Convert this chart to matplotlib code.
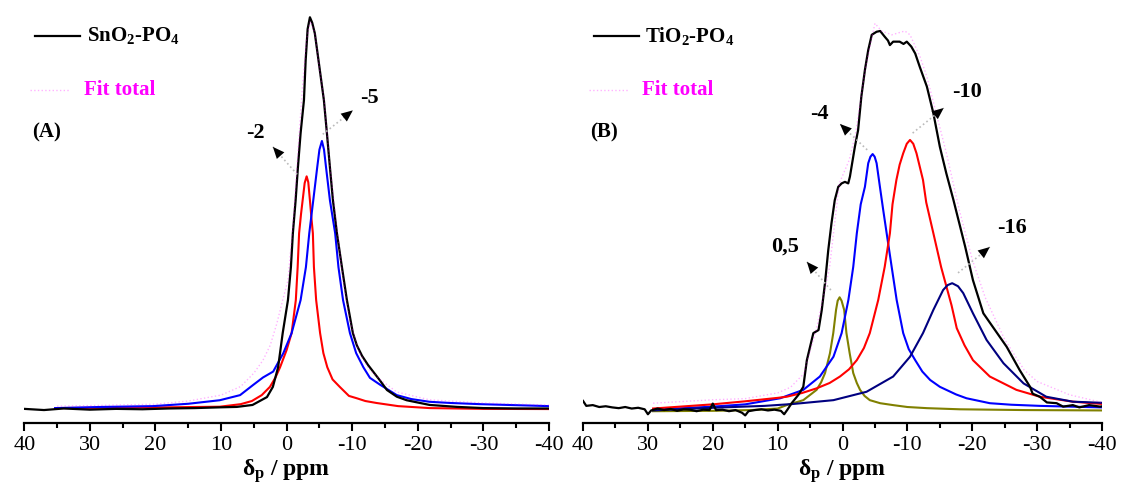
import matplotlib
matplotlib.use("Agg")
import matplotlib.pyplot as plt
import numpy as np
from matplotlib.ticker import MultipleLocator

plt.rcParams["font.family"] = ["Liberation Serif", "DejaVu Serif"]
plt.rcParams["mathtext.fontset"] = "custom"
plt.rcParams["mathtext.rm"] = "Liberation Serif"
plt.rcParams["mathtext.bf"] = "Liberation Serif:bold"
plt.rcParams["mathtext.it"] = "Liberation Serif:italic"
plt.rcParams["axes.unicode_minus"] = False

# ---- panel A : SnO2-PO4 (chemical shift in ppm, intensity in a.u.) ----
A_EXP_PPM = [40, 37, 34, 30, 26, 22, 18, 14, 10, 7.6, 5.2, 3.0, 2.1, 1.3, 0.6, -0.2, -0.65,
             -0.95, -1.37, -1.72, -2.13, -2.64, -2.9, -3.2, -3.55, -3.9, -4.3, -5.0, -5.68,
             -6.14, -6.6, -7.06, -7.67, -8.43, -9.19, -10.1, -10.7, -11.5, -12.4, -14.2, -15.3,
             -16.8, -18.3, -21.8, -26, -30, -35, -40]
A_EXP_INT = [0.3, 0.0, 0.4, 0.1, 0.3, 0.2, 0.4, 0.5, 0.7, 0.8, 1.3, 3.3, 5.9, 10.9, 19.6, 28.0, 36.4,
             45.0, 53.4, 61.8, 70.5, 78.9, 89.0, 97.0, 100.0, 98.6, 95.9, 87.3, 78.9,
             70.5, 61.8, 53.4, 45.0, 36.4, 28.0, 19.6, 16.5, 13.8, 11.5, 7.6, 5.1,
             3.4, 2.5, 1.3, 0.8, 0.5, 0.4, 0.4]

A_FIT_PPM = [35, 28, 20, 15, 10, 7, 5, 3.6, 2.5, 1.5, 0.6, -0.2, -1.0, -1.7, -2.4, -3.0, -3.6,
             -4.3, -5.0, -5.7, -6.6, -7.7, -8.6, -9.6, -11, -12.5, -14.2, -16.8, -21.8, -30, -40]
A_FIT_INT = [1.0, 1.2, 1.5, 2.3, 3.8, 6.0, 9.4, 12.7, 16.5, 22.0, 28.0, 33.0, 48.0, 65.0, 82.0,
             94.0, 99.0, 96.0, 87.0, 79.0, 62.0, 46.0, 33.0, 23.0, 15.0, 10.5, 7.8, 4.6, 2.6, 1.8, 1.25]

A_P2_PPM = [35.3, 25, 18, 10.2, 7, 5.3, 3.8, 2.55, 1.7, 1.0, 0.0, -0.76, -1.4, -1.68, -1.9, -2.2,
            -2.44, -2.75, -3.05, -3.3, -3.55, -3.8, -4.0, -4.16, -4.5, -5.1, -5.6, -6.2, -7.0,
            -8.1, -9.5, -10.7, -12, -13.7, -17, -21.8, -30, -40]
A_P2_INT = [0.5, 0.6, 0.7, 0.85, 1.5, 2.3, 3.8, 5.9, 8.3, 10.9, 15.3, 19.6, 28.0, 36.4, 45.0, 50.0,
            53.4, 57.8, 59.5, 58.0, 53.4, 48.5, 45.0, 36.4, 28.0, 19.6, 14.5, 10.9, 7.8,
            5.9, 3.6, 3.0, 2.3, 1.8, 1.0, 0.5, 0.3, 0.25]

A_P5_PPM = [35.3, 28, 20.4, 15, 10.2, 7.1, 5.1, 3.6, 2.05, 0.5, -0.76, -2.13, -2.94, -3.45,
            -4.06, -4.67, -5.0, -5.38, -5.7, -6.0, -6.6, -7.4, -7.9, -8.6, -9.65, -10.6, -11.7,
            -12.7, -14.2, -16.8, -19, -21.8, -25, -29.5, -40]
A_P5_INT = [0.5, 0.8, 1.0, 1.6, 2.5, 3.8, 6.4, 8.3, 9.8, 14.5, 19.6, 28.0, 36.4, 45.0,
            53.4, 61.9, 66.3, 68.5, 66.3, 61.9, 53.4, 45.0, 36.4, 28.0, 19.6, 14.5, 10.9,
            8.2, 6.5, 3.8, 2.8, 2.1, 1.8, 1.5, 1.0]

# ---- panel B : TiO2-PO4 ----
B_EXP_PPM = [40, 39.5, 38.5, 37.5, 36.5, 35.5, 34.5, 33.5, 32.5, 31.5, 30.5, 30.0, 29.5, 28.5,
             27.5, 26.5, 25.5, 24.5, 23.5, 22.5, 21.5, 20.5, 20.0, 19.5, 18.5, 17.5, 16.5, 15.5,
             15.0, 14.5, 13.5, 12.5, 11.5, 10.5, 9.5, 9.0, 8.5, 7.8, 6.8, 6.05, 5.5, 4.5, 3.7,
             3.2, 2.7, 2.2, 1.7, 1.2, 0.66, 0.14, -0.37, -0.88, -1.14, -1.9, -2.4, -2.9, -3.45,
             -3.96, -4.5, -5.25, -5.8, -6.5, -7.0, -7.3, -7.8, -8.8, -9.4, -9.9, -10.6, -11.2,
             -11.9, -13.0, -14.0, -15.0, -16.0, -17.1, -17.6, -18.9, -20.1, -21.7, -23.5, -25.3,
             -27.3, -28.9, -29.3, -30.4, -31.5, -33.0, -34.0, -35.5, -36.5, -38.0, -39.7, -40]
B_EXP_INT = [2.9, 1.6, 1.8, 1.3, 1.5, 1.2, 1.0, 1.3, 0.9, 1.1, 0.7, -0.6, 0.4, 0.9,
             0.5, 0.8, 0.3, 0.7, 0.6, 0.2, 0.6, 0.5, 2.2, 0.5, 0.6, 0.2, 0.5, -0.2,
             -0.9, 0.2, 0.5, 0.7, 0.4, 0.6, 0.3, -0.6, 0.6, 2.4, 4.5, 6.6, 13.6, 20.7, 21.5,
             26.8, 33.9, 42.5, 49.6, 55.6, 59.1, 60.0, 60.4, 60.0, 61.8, 69.6, 74.0, 82.8, 89.8,
             95.0, 99.0, 99.8, 100.0, 98.5, 97.5, 96.3, 97.2, 97.2, 96.6, 97.2, 95.9, 94.1,
             90.6, 85.4, 78.4, 69.6, 62.6, 55.6, 52.2, 43.4, 34.6, 25.9, 21.5, 17.1,
             11.0, 6.6, 4.8, 4.0, 2.5, 2.3, 1.4, 1.8, 1.2, 1.8, 1.4, 1.5]

B_FIT_PPM = [29.2, 20, 15, 10, 8, 6, 4, 2, 0.5, -1, -2, -3.5, -4.6, -5.0, -6, -7.6, -9.6,
             -10.4, -12, -13, -14.5, -16, -18, -20, -22, -25, -28, -30, -35, -40]
B_FIT_INT = [2.3, 3.2, 3.5, 5.0, 6.5, 10.0, 22.0, 38.0, 60.0, 66.0, 73.0, 90.0, 99.0, 102.0,
             100.0, 99.0, 100.0, 99.0, 93.0, 88.0, 78.0, 68.0, 53.0, 40.0, 30.0, 19.0, 11.0,
             8.0, 4.5, 2.5]

B_P05_PPM = [29.2, 20, 14, 10, 8.6, 6.05, 4.0, 3.3, 2.7, 1.94, 1.43, 1.0, 0.75, 0.45, 0.15,
             -0.25, -0.6, -1.1, -1.65, -2.2, -2.7, -3.4, -4.2, -5.8, -7.8, -10, -13, -18.1,
             -28, -40]
B_P05_INT = [0.2, 0.3, 0.5, 0.9, 1.8, 3.1, 5.8, 7.8, 10.2, 15.4, 20.7, 26.8, 29.2, 30.1, 29.2,
             26.8, 20.7, 15.4, 10.2, 7.6, 5.8, 4.2, 3.1, 2.3, 1.8, 1.3, 1.0, 0.7,
             0.5, 0.4]

B_P4_PPM = [29.2, 20, 15, 9.6, 6.05, 3.5, 1.4, 0.14, -0.9, -1.65, -2.2, -2.8, -3.45, -3.96,
            -4.3, -4.64, -4.95, -5.25, -5.76, -6.27, -6.8, -7.57, -8.34, -9.35, -10.2, -11.2,
            -12.3, -13.5, -15.0, -16.0, -17.5, -19.1, -22.7, -26, -30.4, -40]
B_P4_INT = [0.6, 1.4, 2.0, 3.6, 5.8, 9.3, 14.5, 20.7, 29.4, 38.1, 46.9, 54.5, 59.1, 65.3,
            67.0, 67.7, 67.0, 65.3, 59.1, 53.0, 46.9, 38.1, 29.4, 20.7, 16.5, 13.6,
            10.6, 8.4, 6.6, 5.8, 4.6, 3.6, 2.3, 1.9, 1.6, 1.2]

B_P10_PPM = [29.2, 20, 15, 10, 8.6, 6.2, 4.0, 2.0, 0.4, -1.0, -2.2, -3.3, -4.2, -5.5, -6.5,
             -7.3, -7.7, -8.3, -8.8, -9.35, -9.9, -10.4, -10.9, -11.4, -12.4, -12.9, -14.0,
             -15.2, -16.8, -17.6, -18.8, -20.1, -22.7, -26.8, -30.4, -35.5, -40]
B_P10_INT = [0.9, 2.0, 2.8, 3.7, 4.0, 5.0, 6.2, 7.6, 9.3, 11.2, 13.6, 16.8, 20.7, 29.4, 38.1,
             46.9, 54.5, 60.9, 64.9, 67.9, 70.4, 71.4, 70.4, 67.9, 60.9, 55.0, 46.9,
             38.0, 28.0, 22.0, 17.5, 13.6, 9.3, 5.8, 4.0, 2.7, 2.1]

B_P16_PPM = [29.2, 20, 12, 7.6, 1.4, -3.7, -7.8, -10.4, -12.4, -14.0, -15.5, -16.2, -16.9, -17.8,
             -18.6, -20.1, -22.2, -24.8, -27.9, -31.4, -35.5, -40]
B_P16_INT = [0.4, 1.1, 1.6, 2.1, 3.1, 5.3, 9.3, 14.5, 20.7, 26.8, 32.0, 33.3, 33.8, 33.0,
             31.2, 25.9, 18.9, 12.8, 7.5, 4.0, 2.7, 2.4]

# peak labels: (text, text position, arrow tip, arrow tail)
A_LABELS = [("-2", (4.7, 70.5), (2.1, 67.0), (-1.6, 60.0)),
            ("-5", (-12.7, 79.4), (-10.1, 76.3), (-5.5, 70.2))]
B_LABELS = [("-4", (3.6, 78.2), (0.4, 75.6), (-3.8, 68.8)),
            ("-10", (-19.2, 84.0), (-15.6, 79.8), (-10.8, 73.2)),
            ("0,5", (8.9, 43.3), (5.5, 39.4), (1.8, 32.0)),
            ("-16", (-26.1, 48.3), (-22.7, 43.3), (-17.8, 36.5))]

FIT_COLOR = "#FF00FF"


def style_axis(ax, ylim):
    ax.set_xlim(40, -40)
    ax.set_ylim(*ylim)
    for side in ("left", "right", "top"):
        ax.spines[side].set_visible(False)
    ax.spines["bottom"].set_linewidth(1.6)
    ax.set_yticks([])
    ax.xaxis.set_major_locator(MultipleLocator(10))
    ax.xaxis.set_minor_locator(MultipleLocator(5))
    ax.tick_params(axis="x", which="major", direction="out", length=6, width=1.5,
                   labelsize=16, pad=3)
    ax.tick_params(axis="x", which="minor", direction="out", length=3.5, width=1.5)
    ax.set_xlabel("δ$_\\mathbf{p}$ / ppm", fontsize=17, fontweight="bold", labelpad=2)
    ax.patch.set_alpha(0)


def add_legend(ax, name, tag):
    ax.plot([0.021, 0.107], [0.927, 0.927], color="k", lw=1.6, transform=ax.transAxes)
    ax.text(0.120, 0.927, name, transform=ax.transAxes, fontsize=15, fontweight="bold",
            va="center", ha="left")
    ax.plot([0.011, 0.088], [0.797, 0.797], color=FIT_COLOR, lw=1.0, ls=":", alpha=0.3,
            transform=ax.transAxes)
    ax.text(0.113, 0.797, "Fit total", transform=ax.transAxes, fontsize=15,
            fontweight="bold", color=FIT_COLOR, va="center", ha="left")
    ax.text(0.014, 0.695, tag, transform=ax.transAxes, fontsize=15, fontweight="bold",
            va="center", ha="left")


def add_peak_labels(ax, labels):
    for text, tpos, tip, tail in labels:
        ax.plot([tail[0], tip[0]], [tail[1], tip[1]], color="#BBBBBB", lw=1.2, ls=":")
        ax.annotate("", xy=tip, xytext=(tip[0] + 0.2 * (tail[0] - tip[0]),
                                        tip[1] + 0.2 * (tail[1] - tip[1])),
                    arrowprops=dict(arrowstyle="-|>,head_length=0.7,head_width=0.3",
                                    color="k", lw=0, shrinkA=0, shrinkB=0,
                                    mutation_scale=12))
        ax.text(tpos[0], tpos[1], text, fontsize=16, fontweight="bold",
                ha="center", va="center")


fig = plt.figure(figsize=(11.21, 4.94), dpi=100)
ax_a = fig.add_axes([0.0217, 0.1437, 0.468, 0.846])
ax_b = fig.add_axes([0.5201, 0.1437, 0.463, 0.846])

ax_a.plot(A_P2_PPM, A_P2_INT, color="#FF0000", lw=1.5)
ax_a.plot(A_P5_PPM, A_P5_INT, color="#0000FF", lw=1.5)
ax_a.plot(A_EXP_PPM, A_EXP_INT, color="k", lw=1.6)
ax_a.plot(A_FIT_PPM, A_FIT_INT, color=FIT_COLOR, lw=1.0, ls=":", alpha=0.3)
style_axis(ax_a, (-3.3, 103.1))
add_legend(ax_a, "SnO$_\\mathbf{2}$-PO$_\\mathbf{4}$", "(A)")
add_peak_labels(ax_a, A_LABELS)

ax_b.plot(B_P05_PPM, B_P05_INT, color="#808000", lw=1.5)
ax_b.plot(B_P4_PPM, B_P4_INT, color="#0000FF", lw=1.5)
ax_b.plot(B_P10_PPM, B_P10_INT, color="#FF0000", lw=1.5)
ax_b.plot(B_P16_PPM, B_P16_INT, color="#000080", lw=1.5)
ax_b.plot(B_EXP_PPM, B_EXP_INT, color="k", lw=1.6)
ax_b.plot(B_FIT_PPM, B_FIT_INT, color=FIT_COLOR, lw=1.0, ls=":", alpha=0.3)
style_axis(ax_b, (-2.9, 106.8))
add_legend(ax_b, "TiO$_\\mathbf{2}$-PO$_\\mathbf{4}$", "(B)")
add_peak_labels(ax_b, B_LABELS)

fig.savefig("out.png", dpi=100, facecolor="white")
